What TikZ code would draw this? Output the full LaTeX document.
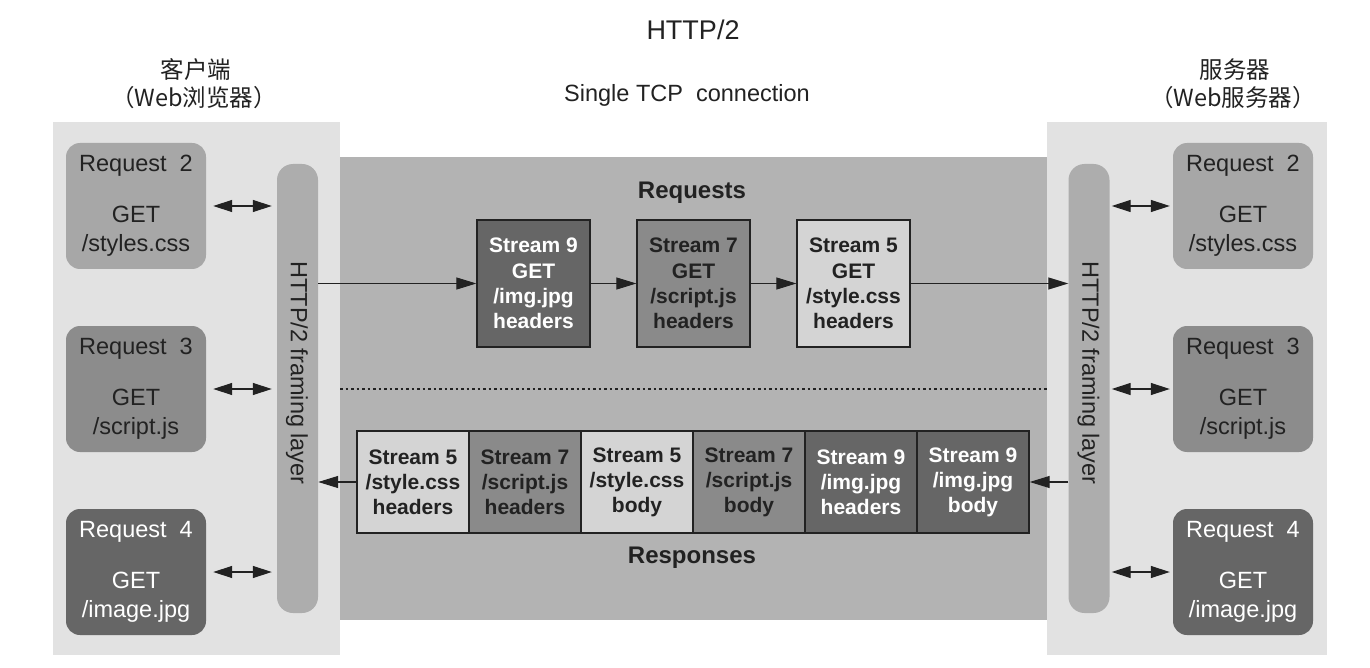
\documentclass[tikz,border=0pt]{standalone}
\usepackage{fontspec}
\setmainfont{Liberation Sans}
\newfontfamily\cjk{Noto Sans CJK SC}
\usetikzlibrary{arrows.meta}
\definecolor{panellight}{HTML}{E2E2E2}
\definecolor{panelmid}{HTML}{B3B3B3}
\definecolor{barcol}{HTML}{ADADAD}
\definecolor{reqA}{HTML}{A7A7A7}
\definecolor{reqB}{HTML}{8C8C8C}
\definecolor{reqC}{HTML}{666666}
\definecolor{stlight}{HTML}{D4D4D4}
\definecolor{stmid}{HTML}{8A8A8A}
\definecolor{stdark}{HTML}{666666}
\definecolor{ink}{HTML}{222222}
\tikzset{
  reqbox/.style={rounded corners=14pt, minimum width=140pt, minimum height=126pt, inner sep=0pt,
    align=center, font=\fontsize{23.5}{29}\selectfont, text=ink},
  framebar/.style={rounded corners=16pt, fill=barcol, minimum width=41pt, minimum height=449pt, inner sep=0pt},
  streambox/.style={draw=ink, line width=1.3pt, minimum width=113pt, minimum height=127pt, inner sep=0pt,
    align=center, font=\fontsize{21}{25.3}\selectfont\bfseries, text=ink},
  cellbox/.style={draw=ink, line width=1.3pt, minimum width=112pt, minimum height=102pt, inner sep=0pt,
    align=center, font=\fontsize{21}{25}\selectfont\bfseries, text=ink},
  flow/.style={draw=ink, line width=1.1pt, -{Triangle[length=20pt,width=12pt]}},
  dblflow/.style={draw=ink, line width=1.1pt, {Triangle[length=19pt,width=12pt]}-{Triangle[length=19pt,width=12pt]}},
  lbl/.style={font=\fontsize{23.5}{28}\selectfont, text=ink, inner sep=0pt},
  boldlbl/.style={font=\fontsize{24}{28}\selectfont\bfseries, text=ink, inner sep=0pt},
}
\begin{document}
\begin{tikzpicture}[x=1pt,y=-1pt]
\useasboundingbox (0,0) rectangle (1370,668);
\fill[white] (0,0) rectangle (1370,668);
% panels
\fill[panellight] (53,122) rectangle (340,655);
\fill[panellight] (1047,122) rectangle (1327,655);
\fill[panelmid] (340,157) rectangle (1047,620);
% titles
\node[lbl, font=\fontsize{27}{30}\selectfont] (title) at (693,30) {HTTP/2};
\node[lbl] (tcp) at (687,95) {Single TCP\ \ connection};
\node[lbl] (client1) at (196,70) {\cjk 客户端};
\node[lbl] (client2) at (194,98) {\cjk （Web浏览器）};
\node[lbl] (server1) at (1235,70) {\cjk 服务器};
\node[lbl] (server2) at (1233,98) {\cjk （Web服务器）};
% framing bars
\node[framebar] (lbar) at (297.5,388.5) {};
\node[framebar] (rbar) at (1089,388.5) {};
\node[lbl, rotate=-90] (ltxt) at (297,373) {HTTP/2 framing layer};
\node[lbl, rotate=-90] (rtxt) at (1088.5,373) {HTTP/2 framing layer};
% client requests
\node[reqbox, fill=reqA] (lr2) at (136,206) {Request\ \ 2\\[22pt]GET\\/styles.css};
\node[reqbox, fill=reqB] (lr3) at (136,389) {Request\ \ 3\\[22pt]GET\\/script.js};
\node[reqbox, fill=reqC, text=white] (lr4) at (136,572) {Request\ \ 4\\[22pt]GET\\/image.jpg};
% server requests
\node[reqbox, fill=reqA] (rr2) at (1243,206) {Request\ \ 2\\[22pt]GET\\/styles.css};
\node[reqbox, fill=reqB] (rr3) at (1243,389) {Request\ \ 3\\[22pt]GET\\/script.js};
\node[reqbox, fill=reqC, text=white] (rr4) at (1243,572) {Request\ \ 4\\[22pt]GET\\/image.jpg};
% double arrows
\draw[dblflow] ([xshift=7pt]lr2.east) -- ([xshift=-5pt]lbar.west |- lr2.east);
\draw[dblflow] ([xshift=7pt]lr3.east) -- ([xshift=-5pt]lbar.west |- lr3.east);
\draw[dblflow] ([xshift=7pt]lr4.east) -- ([xshift=-5pt]lbar.west |- lr4.east);
\draw[dblflow] ([xshift=2pt]rbar.east |- rr2.west) -- ([xshift=-3pt]rr2.west);
\draw[dblflow] ([xshift=2pt]rbar.east |- rr3.west) -- ([xshift=-3pt]rr3.west);
\draw[dblflow] ([xshift=2pt]rbar.east |- rr4.west) -- ([xshift=-3pt]rr4.west);
% requests
\node[boldlbl] (reqlbl) at (692,193) {Requests};
\node[streambox, fill=stdark, text=white] (s9) at (533.5,283.5) {Stream 9\\GET\\/img.jpg\\headers};
\node[streambox, fill=stmid] (s7) at (693.5,283.5) {Stream 7\\GET\\/script.js\\headers};
\node[streambox, fill=stlight] (s5) at (853.5,283.5) {Stream 5\\GET\\/style.css\\headers};
\coordinate (lbarout) at (lbar.east |- s9.west);
\coordinate (rbarin) at (rbar.west |- s5.east);
\draw[flow] (lbarout) -- (s9.west);
\draw[flow] (s9.east) -- (s7.west);
\draw[flow] (s7.east) -- (s5.west);
\draw[flow] (s5.east) -- (rbarin);
% divider
\draw[ink, line width=1.1pt, dash pattern=on 2.5pt off 3pt] (340,389) -- (1047,389);
% responses
\node[cellbox, fill=stlight] (c1) at (413,482) {Stream 5\\/style.css\\headers};
\node[cellbox, fill=stmid] (c2) at (525,482) {Stream 7\\/script.js\\headers};
\node[cellbox, fill=stlight] (c3) at (637,482) {Stream 5\\/style.css\\body};
\node[cellbox, fill=stmid] (c4) at (749,482) {Stream 7\\/script.js\\body};
\node[cellbox, fill=stdark, text=white] (c5) at (861,482) {Stream 9\\/img.jpg\\headers};
\node[cellbox, fill=stdark, text=white] (c6) at (973,482) {Stream 9\\/img.jpg\\body};
\node[boldlbl] (reslbl) at (692,558) {Responses};
\coordinate (rbarout) at (rbar.west |- c6.east);
\coordinate (lbarin) at (lbar.east |- c1.west);
\draw[flow] (rbarout) -- (c6.east);
\draw[flow] (c1.west) -- (lbarin);
\end{tikzpicture}
\end{document}
